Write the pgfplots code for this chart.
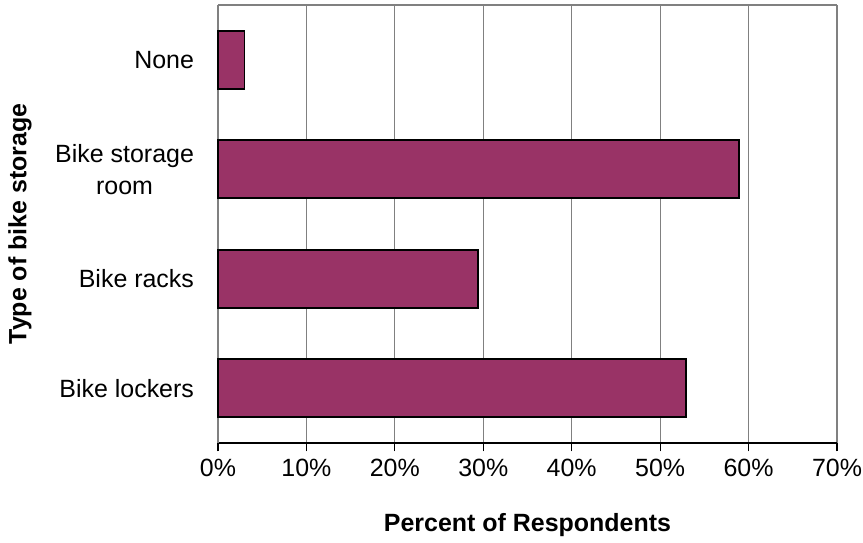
\documentclass[border=0pt]{standalone}
\usepackage{pgfplots}
\pgfplotsset{compat=1.18}
\usepackage{fontspec}
\setmainfont{Liberation Sans}
\definecolor{barfill}{RGB}{153,51,102}
\definecolor{gridgray}{RGB}{128,128,128}
\begin{document}
\begin{tikzpicture}
\begin{axis}[
  scale only axis,
  width=297.7pt, height=210.6pt,
  xbar,
  xmin=0, xmax=70,
  ymin=-0.5, ymax=3.5,
  bar width=0.53,
  xtick={0,10,20,30,40,50,60,70},
  xticklabels={0\%,10\%,20\%,30\%,40\%,50\%,60\%,70\%},
  ytick={0,1,2,3},
  yticklabels={Bike lockers,Bike racks,{Bike storage\\room},None},
  yticklabel style={align=center, font=\fontsize{12}{15.4}\selectfont, xshift=-4pt},
  xticklabel style={font=\fontsize{12}{14}\selectfont},
  xmajorgrids, grid style={gridgray, line width=0.6pt},
  axis line style={gridgray, line width=0.6pt},
  axis x line*=bottom,
  axis y line*=left,
  x axis line style={black},
  tick align=outside,
  xtick style={black, line width=0.6pt},
  major tick length=4pt,
  ytick style={draw=none},
  xlabel={\textbf{Percent of Respondents}},
  ylabel={\textbf{Type of bike storage}},
  every axis x label/.style={at={([yshift=-39.4pt]axis description cs:0.5,0)}, anchor=center, font=\fontsize{12}{14}\selectfont},
  every axis y label/.style={at={([xshift=-95.2pt]axis description cs:0,0.5)}, rotate=90, anchor=center, font=\fontsize{12}{14}\selectfont},
  clip=false,
]
\addplot[fill=barfill, draw=black, line width=0.8pt] coordinates {
  (52.9,0) (29.4,1) (58.9,2) (3.0,3)
};
\draw[gridgray, line width=0.6pt] (axis cs:0,3.5) -- (axis cs:70,3.5);
\end{axis}
\pgfresetboundingbox
\path[use as bounding box] (current axis.south west) ++(-104.8pt,-48pt) rectangle ([shift={(12.5pt,2.4pt)}]current axis.north east);
\end{tikzpicture}
\end{document}
